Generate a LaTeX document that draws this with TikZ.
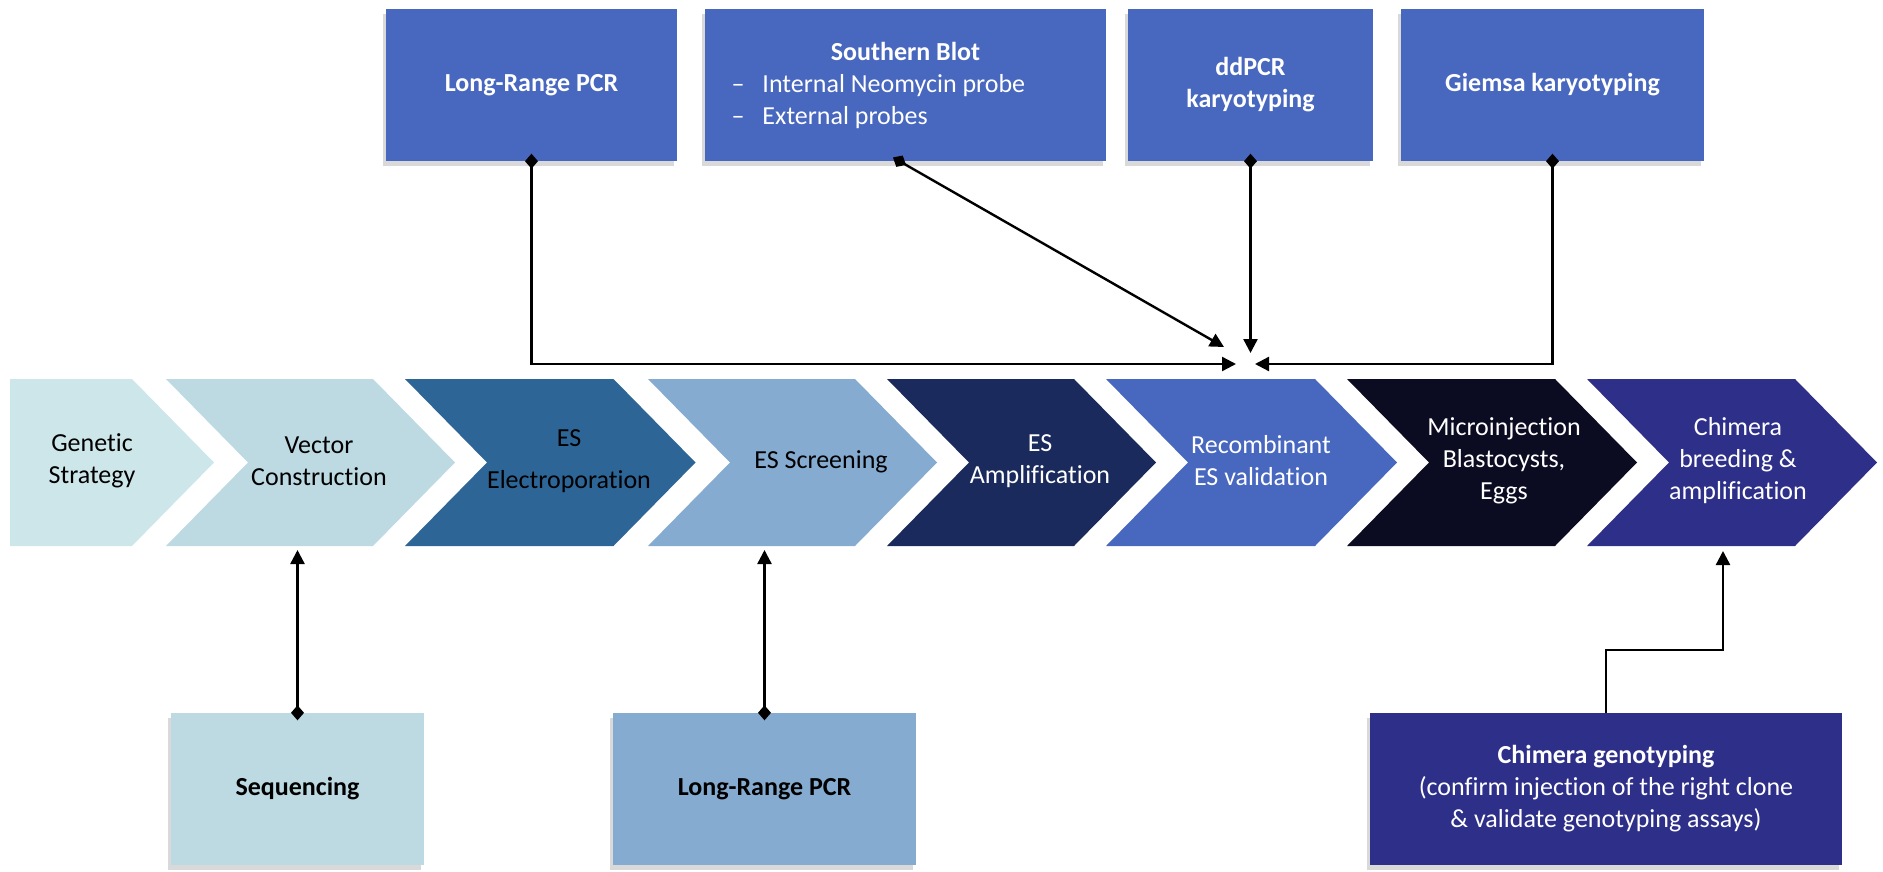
\documentclass[tikz,border=0pt]{standalone}
\usepackage{fontspec}
\setmainfont{Carlito}[Ligatures=NoCommon]
\usepackage{tikz}
\usetikzlibrary{arrows.meta,shadows}

\definecolor{chevA}{HTML}{CDE6EA}
\definecolor{chevB}{HTML}{BDDAE3}
\definecolor{chevC}{HTML}{2D6597}
\definecolor{chevD}{HTML}{85ABD0}
\definecolor{chevE}{HTML}{1B2A5C}
\definecolor{chevF}{HTML}{4867BF}
\definecolor{chevG}{HTML}{0B0B22}
\definecolor{chevH}{HTML}{2E2F89}

\tikzset{
	box/.style={minimum height=152pt, inner sep=0pt, align=center, drop shadow={shadow xshift=-3pt, shadow yshift=-5pt, opacity=0.3}},
	step label/.style={align=center},
	link/.style={line width=2.4pt, {Diamond[length=15pt,width=13pt]}-{Triangle[length=14pt,width=14pt]}, shorten <=-7.5pt},
	plainlink/.style={line width=2.4pt, -{Triangle[length=14pt,width=14pt]}}
}

\begin{document}
\begin{tikzpicture}[x=1pt, y=-1pt, font=\fontsize{26}{32}\selectfont]
	\useasboundingbox (0,0) rectangle (1883,872);
	\fill[chevA] (10,379) -- (132,379) -- (214,462.5) -- (132,546) -- (10,546) -- cycle;
	\foreach \xl/\xt/\col in {166/455/chevB, 405/695.5/chevC, 648/937/chevD, 887/1156/chevE, 1106/1397/chevF, 1347/1637/chevG, 1587/1877/chevH} {
		\fill[\col] (\xl,379) -- (\xt-82,379) -- (\xt,462.5) -- (\xt-82,546) -- (\xl,546) -- (\xl+82,462.5) -- cycle;
	}
	\node[step label] (c1) at (92,461) {Genetic\\Strategy};
	\node[step label] (c2) at (319,461) {Vector\\Construction};
	\node[step label] (c3) at (569,461) {ES\\[10pt]Electroporation};
	\node[step label] (c4) at (821,462) {ES Screening};
	\node[step label, text=white] (c5) at (1040,461) {ES\\Amplification};
	\node[step label, text=white] (c6) at (1261,461) {Recombinant\\ES validation};
	\node[step label, text=white] (c7) at (1504,461) {Microinjection\\Blastocysts,\\Eggs};
	\node[step label, text=white] (c8) at (1738,461) {Chimera\\breeding \&\\amplification};

	\node[box, fill=chevF, text=white, font=\fontsize{26}{32}\selectfont\bfseries, minimum width=291pt] (lrtop) at (531.5,85) {Long-Range PCR};
	\node[box, fill=chevF, text=white, minimum width=401pt] (sb) at (905.5,85) {\textbf{Southern Blot}\\
		\makebox[348pt][l]{\makebox[31pt][l]{--}Internal Neomycin probe}\\
		\makebox[348pt][l]{\makebox[31pt][l]{--}External probes}};
	\node[box, fill=chevF, text=white, font=\fontsize{26}{32}\selectfont\bfseries, minimum width=245pt] (dd) at (1250.5,85) {ddPCR\\karyotyping};
	\node[box, fill=chevF, text=white, font=\fontsize{26}{32}\selectfont\bfseries, minimum width=303pt] (gk) at (1552.5,85) {Giemsa karyotyping};

	\node[box, fill=chevB, font=\fontsize{26}{32}\selectfont\bfseries, minimum width=253pt] (seq) at (297.5,789) {Sequencing};
	\node[box, fill=chevD, font=\fontsize{26}{32}\selectfont\bfseries, minimum width=303pt] (lrbot) at (764.5,789) {Long-Range PCR};
	\node[box, fill=chevH, text=white, minimum width=472pt] (cg) at (1606,789) {\textbf{Chimera genotyping}\\(confirm injection of the right clone\\\& validate genotyping assays)};

	\coordinate (hubL) at (1236,364);
	\coordinate (hubR) at (1255,364);
	\coordinate (hubT) at (1250.5,353);
	\coordinate (hubD) at (1224,347);
	\coordinate (base) at (0,550);
	\coordinate (cgup) at (1723,551);

	\draw[link] (lrtop.south) |- (hubL);
	\draw[link] ([xshift=-6pt]sb.south) -- (hubD);
	\draw[link] (dd.south) -- (hubT);
	\draw[link] (gk.south) |- (hubR);
	\draw[link] (seq.north) -- (seq.north |- base);
	\draw[link] (lrbot.north) -- (lrbot.north |- base);
	\draw[plainlink] (cg.north) -- ++(0,-63) -| (cgup);
\end{tikzpicture}
\end{document}
